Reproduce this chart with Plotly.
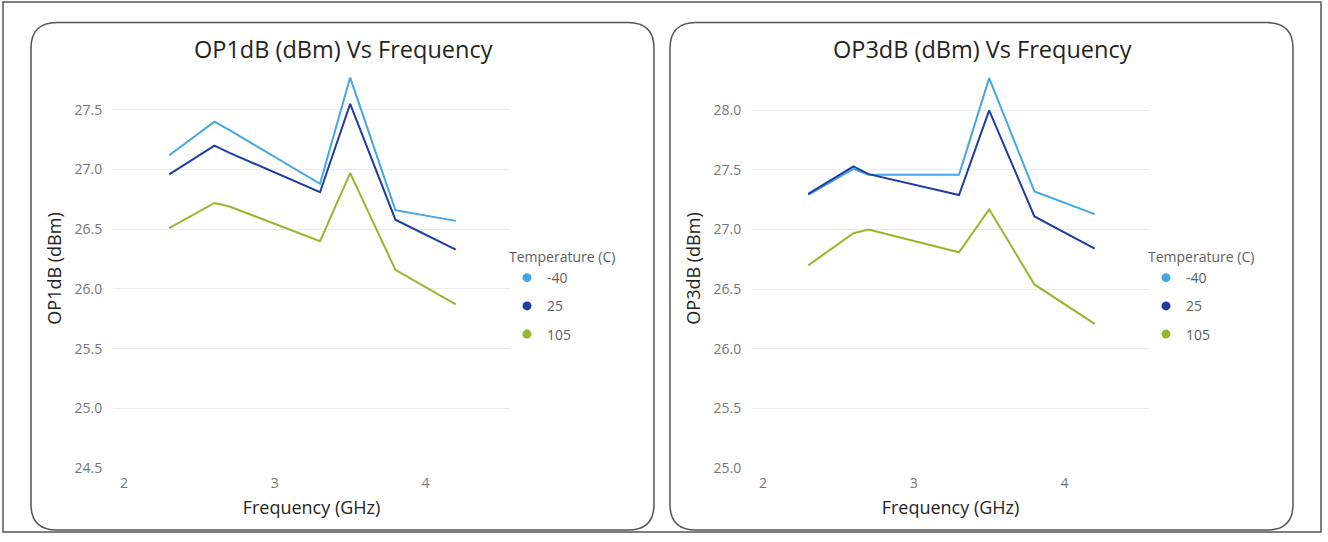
import plotly.graph_objects as go

W, H = 1328, 542

# ---------------- data ----------------
freq = [2.3, 2.6, 2.7, 3.3, 3.5, 3.8, 4.2]
temps = ["-40", "25", "105"]
colors = ["#44A6E3", "#1E3DA2", "#95B72A"]

op1_m40 = [27.12, 27.40, 27.33, 26.88, 27.77, 26.66, 26.57]
op1_25 = [26.96, 27.20, 27.14, 26.81, 27.55, 26.58, 26.33]
op1_105 = [26.51, 26.72, 26.69, 26.40, 26.97, 26.16, 25.87]

op3_m40 = [27.29, 27.51, 27.46, 27.46, 28.27, 27.32, 27.13]
op3_25 = [27.30, 27.53, 27.465, 27.29, 28.00, 27.11, 26.84]
op3_105 = [26.70, 26.97, 27.00, 26.81, 27.17, 26.54, 26.21]

op1_ticks = [24.5, 25.0, 25.5, 26.0, 26.5, 27.0, 27.5]
op3_ticks = [25.0, 25.5, 26.0, 26.5, 27.0, 27.5, 28.0]
x_ticks = [2, 3, 4]

titles = ["OP1dB (dBm) Vs Frequency", "OP3dB (dBm) Vs Frequency"]
y_titles = ["OP1dB (dBm)", "OP3dB (dBm)"]
x_title = "Frequency (GHz)"
legend_title = "Temperature (C)"


def px(x):
    return x / W


def py(y):
    return 1 - y / H


FONT = "Segoe UI, Open Sans, Noto Sans, sans-serif"
TICK_COLOR = "#777777"
DARK = "#252423"

fig = go.Figure()

series = [[op1_m40, op1_25, op1_105], [op3_m40, op3_25, op3_105]]
for p in range(2):
    xa = "x" if p == 0 else "x2"
    ya = "y" if p == 0 else "y2"
    lg = "legend" if p == 0 else "legend2"
    for s, (name, col) in enumerate(zip(temps, colors)):
        fig.add_trace(go.Scatter(
            x=freq, y=series[p][s], mode="lines", name=name,
            line=dict(color=col, width=2), xaxis=xa, yaxis=ya,
            showlegend=False, legendgroup=f"{p}-{name}", legend=lg,
        ))
        fig.add_trace(go.Scatter(
            x=[None], y=[None], mode="markers", name=name,
            marker=dict(color=col, size=9, symbol="circle"),
            xaxis=xa, yaxis=ya, showlegend=True,
            legendgroup=f"{p}-{name}", legend=lg,
        ))

# plot areas (pixels)
left_dom = [px(113), px(510)]
right_dom = [px(752), px(1149)]
y_dom = [py(476), py(70)]

axis_common = dict(
    showline=False, zeroline=False,
    tickfont=dict(family=FONT, size=14, color=TICK_COLOR),
)
x_common = dict(ticks="outside", ticklen=2, tickcolor="rgba(0,0,0,0)",
                showgrid=False,
                title=dict(text=x_title, font=dict(size=18, color=DARK), standoff=10),
                **axis_common)
y_common = dict(ticks="outside", ticklen=7, tickcolor="rgba(0,0,0,0)",
                tickformat=".1f", showgrid=True, gridcolor="#EBEBEB",
                gridwidth=1, **axis_common)

fig.update_layout(
    width=W, height=H, autosize=False,
    margin=dict(l=0, r=0, t=0, b=0),
    paper_bgcolor="white", plot_bgcolor="white",
    font=dict(family=FONT, color=DARK),
    xaxis=dict(domain=left_dom, range=[1.927, 4.56], tickvals=x_ticks,
               anchor="y", **x_common),
    yaxis=dict(domain=y_dom, range=[24.5, 27.843], tickvals=op1_ticks, anchor="x",
               title=dict(text=y_titles[0], font=dict(size=18, color=DARK), standoff=8),
               **y_common),
    xaxis2=dict(domain=right_dom, range=[1.927, 4.56], tickvals=x_ticks,
                anchor="y2", **x_common),
    yaxis2=dict(domain=y_dom, range=[25.0, 28.348], tickvals=op3_ticks, anchor="x2",
                title=dict(text=y_titles[1], font=dict(size=18, color=DARK), standoff=8),
                **y_common),
    legend=dict(x=px(507), y=py(248), xanchor="left", yanchor="top",
                title=dict(text=legend_title, font=dict(size=14, color="#605E5C")),
                font=dict(size=14, color="#605E5C"), bgcolor="rgba(0,0,0,0)",
                tracegroupgap=7, itemwidth=30),
    legend2=dict(x=px(1146), y=py(248), xanchor="left", yanchor="top",
                 title=dict(text=legend_title, font=dict(size=14, color="#605E5C")),
                 font=dict(size=14, color="#605E5C"), bgcolor="rgba(0,0,0,0)",
                 tracegroupgap=7, itemwidth=30),
)

# chart titles
for cx, t in zip([343, 982], titles):
    fig.add_annotation(x=px(cx), y=py(50), xref="paper", yref="paper",
                       text=t, showarrow=False, xanchor="center", yanchor="middle",
                       font=dict(family=FONT, size=23.5, color=DARK))

# outer frame
fig.add_shape(type="rect", xref="paper", yref="paper",
              x0=px(3), y0=py(541), x1=px(1321), y1=py(2),
              line=dict(color="#555555", width=1.5), fillcolor="rgba(0,0,0,0)")


def rounded_path(x0, y0, x1, y1, r):
    # pixel coords -> paper path with rounded corners (quadratic curves)
    pts = [
        ("M", (x0 + r, y0)), ("L", (x1 - r, y0)), ("Q", (x1, y0), (x1, y0 + r)),
        ("L", (x1, y1 - r)), ("Q", (x1, y1), (x1 - r, y1)),
        ("L", (x0 + r, y1)), ("Q", (x0, y1), (x0, y1 - r)),
        ("L", (x0, y0 + r)), ("Q", (x0, y0), (x0 + r, y0)),
    ]
    out = []
    for item in pts:
        cmd = item[0]
        coords = " ".join(f"{px(a):.5f},{py(b):.5f}" for a, b in item[1:])
        out.append(f"{cmd} {coords}")
    return " ".join(out) + " Z"


for (x0, x1) in [(31, 654), (670, 1293)]:
    fig.add_shape(type="path", xref="paper", yref="paper",
                  path=rounded_path(x0, 23, x1, 539, 26),
                  line=dict(color="#555555", width=1.5), fillcolor="rgba(0,0,0,0)")

fig.write_html("out.html", config={"responsive": False})
